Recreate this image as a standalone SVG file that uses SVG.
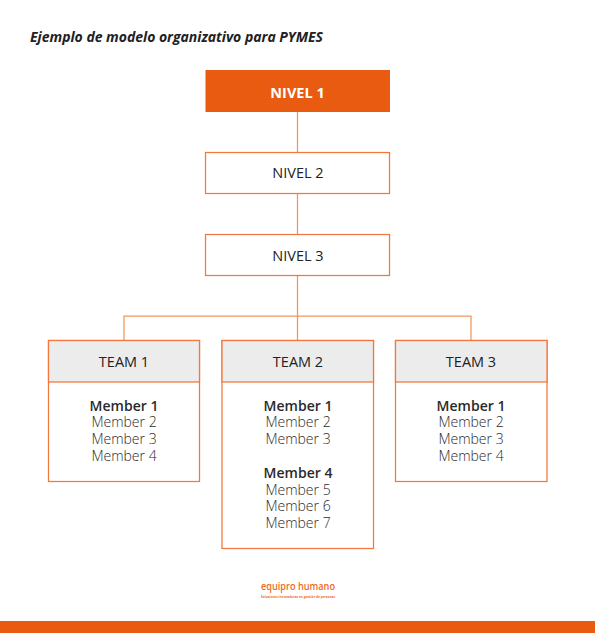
<svg xmlns="http://www.w3.org/2000/svg" width="595" height="633" viewBox="0 0 595 633">
<style>
text{font-family:"Open Sans","Noto Sans",sans-serif;text-anchor:middle;fill:#333}
.box{fill:#fff;stroke:#f3763a;stroke-width:1.250}
.head{fill:#ececec;stroke:#f3763a;stroke-width:1.250}
.lv{font-size:14.500px;font-weight:500;fill:#222}
.m{font-size:14px;font-weight:300;fill:#2a2a2a}
.b{font-size:14px;font-weight:600;fill:#2a2a2a}
.c{fill:none;stroke:#f8935a;stroke-width:1.250}
</style>
<rect width="595" height="633" fill="#fff"/>
<text x="30" y="42" style="text-anchor:start;font-size:14px;font-weight:700;font-style:italic;fill:#222" textLength="293">Ejemplo de modelo organizativo para PYMES</text>
<g id="connectors">
<path class="c" d="M297.500 112V152M297.500 194V234M297.500 276V340M124 340V316H471V340"/>
</g>
<g id="nivel1"><rect x="205.500" y="70" width="184.500" height="42" fill="#ea5b12"/><text x="297.500" y="97.500" style="font-size:14.500px;font-weight:700;fill:#fff">NIVEL 1</text></g>
<g id="nivel2"><rect class="box" x="205.500" y="152.500" width="184" height="41"/><text class="lv" x="298" y="178">NIVEL 2</text></g>
<g id="nivel3"><rect class="box" x="205.500" y="234.500" width="184" height="41"/><text class="lv" x="298" y="261">NIVEL 3</text></g>
<g id="team1"><rect class="box" x="48.500" y="340.500" width="151" height="141"/><rect class="head" x="48.500" y="340.500" width="151" height="41.500"/><text class="lv" x="124" y="367">TEAM 1</text>
<text class="b" x="124" y="411">Member 1</text><text class="m" x="124" y="427">Member 2</text><text class="m" x="124" y="444">Member 3</text><text class="m" x="124" y="461">Member 4</text></g>
<g id="team2"><rect class="box" x="222" y="340.500" width="151.500" height="208"/><rect class="head" x="222" y="340.500" width="151.500" height="41.500"/><text class="lv" x="298" y="367">TEAM 2</text>
<text class="b" x="298" y="411">Member 1</text><text class="m" x="298" y="427">Member 2</text><text class="m" x="298" y="444">Member 3</text>
<text class="b" x="298" y="478">Member 4</text><text class="m" x="298" y="495">Member 5</text><text class="m" x="298" y="511">Member 6</text><text class="m" x="298" y="528">Member 7</text></g>
<g id="team3"><rect class="box" x="395.500" y="340.500" width="151.500" height="141"/><rect class="head" x="395.500" y="340.500" width="151.500" height="41.500"/><text class="lv" x="471" y="367">TEAM 3</text>
<text class="b" x="471" y="411">Member 1</text><text class="m" x="471" y="427">Member 2</text><text class="m" x="471" y="444">Member 3</text><text class="m" x="471" y="461">Member 4</text></g>
<g id="logo"><text x="298" y="590" textLength="74" lengthAdjust="spacingAndGlyphs" style="font-size:10px;font-weight:600;fill:#ee6a1f">equipro humano</text><text x="298" y="597.500" textLength="74" lengthAdjust="spacingAndGlyphs" style="font-size:3.500px;font-weight:700;fill:#ee6a1f">Soluciones innovadoras en gestión de personas</text></g>
<rect x="0" y="621" width="595" height="12" fill="#ea5b12"/>
</svg>
